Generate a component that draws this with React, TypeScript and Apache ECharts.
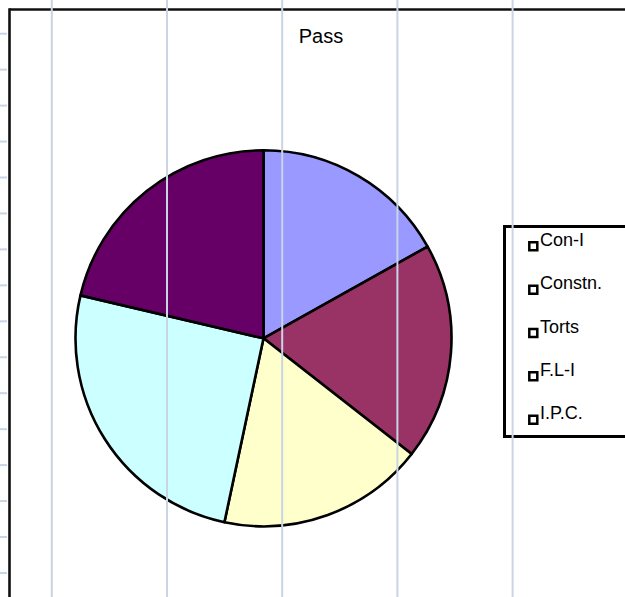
import React, { useEffect, useRef } from "react";
import * as echarts from "echarts";

const titleText = "Pass";
const categories = ["Con-I", "Constn.", "Torts", "F.L-I", "I.P.C."];
const values = [38, 42, 40, 57, 48];
const colors = ["#9999ff", "#993366", "#ffffcc", "#ccffff", "#660066"];

const FONT = "'Liberation Sans', Arial, sans-serif";
const GRID = "#c9d4e4";

export default function App() {
  const ref = useRef<HTMLDivElement>(null);
  useEffect(() => {
    if (!ref.current) return;
    const chart = echarts.init(ref.current, null, { renderer: "svg" });

    const graphics: any[] = [];
    // frame lines (top and left)
    graphics.push({
      type: "line",
      z: 5,
      shape: { x1: 9.5, y1: 9.5, x2: 625, y2: 9.5 },
      style: { stroke: "#111", lineWidth: 2.6 },
    });
    graphics.push({
      type: "line",
      z: 5,
      shape: { x1: 9.5, y1: 8.2, x2: 9.5, y2: 597 },
      style: { stroke: "#111", lineWidth: 2.6 },
    });
    // left ticks
    for (let k = 0; k < 16; k++) {
      const y = 33.7 + 35.95 * k;
      graphics.push({
        type: "line",
        z: 5,
        shape: { x1: 0, y1: y, x2: 7, y2: y },
        style: { stroke: GRID, lineWidth: 2 },
      });
    }
    // legend box
    graphics.push({
      type: "rect",
      z: 6,
      shape: { x: 504.5, y: 226.5, width: 140, height: 210 },
      style: { fill: "#fff", stroke: "#000", lineWidth: 3 },
    });
    categories.forEach((c, i) => {
      const cy = 246.3 + 43.35 * i;
      graphics.push({
        type: "rect",
        z: 7,
        shape: { x: 529.3, y: cy - 4, width: 8, height: 8 },
        style: { fill: "#fff", stroke: "#000", lineWidth: 2.5 },
      });
      graphics.push({
        type: "text",
        z: 7,
        x: 540,
        y: cy - 6.3,
        style: {
          text: c,
          fill: "#000",
          font: `18px ${FONT}`,
          textAlign: "left",
          textVerticalAlign: "middle",
        },
      });
    });
    // vertical gridlines on top
    [51.8, 167, 282.2, 397.4, 512.6].forEach((x) => {
      graphics.push({
        type: "line",
        z: 20,
        shape: { x1: x, y1: 0, x2: x, y2: 597 },
        style: { stroke: GRID, lineWidth: 2 },
      });
    });
    // title
    graphics.push({
      type: "text",
      z: 7,
      x: 321,
      y: 36,
      style: {
        text: titleText,
        fill: "#000",
        font: `20px ${FONT}`,
        textAlign: "center",
        textVerticalAlign: "middle",
      },
    });

    chart.setOption({
      animation: false,
      backgroundColor: "#fff",
      graphic: { elements: graphics },
      series: [
        {
          type: "pie",
          z: 2,
          center: [263.5, 338.3],
          radius: 188,
          startAngle: 90,
          clockwise: true,
          silent: true,
          label: { show: false },
          labelLine: { show: false },
          itemStyle: { borderColor: "#000", borderWidth: 2.6 },
          emphasis: { disabled: true },
          data: categories.map((c, i) => ({
            name: c,
            value: values[i],
            itemStyle: { color: colors[i] },
          })),
        },
      ],
    });
    return () => chart.dispose();
  }, []);
  return (
    <div
      ref={ref}
      style={{ width: 625, height: 597, position: "fixed", left: 0, top: 0 }}
    />
  );
}
